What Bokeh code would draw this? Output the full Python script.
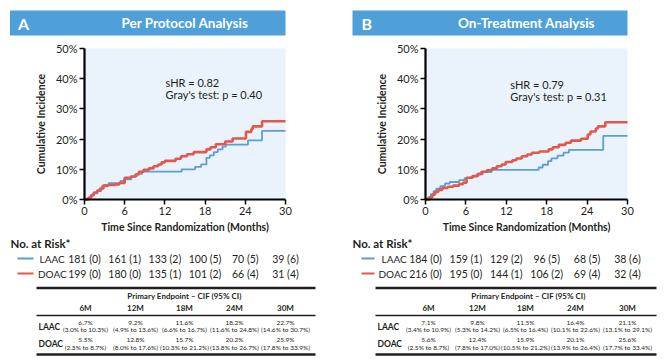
from bokeh.plotting import figure
from bokeh.models import Range1d, FixedTicker, PrintfTickFormatter, LinearAxis
from bokeh.core.properties import value
from bokeh.embed import file_html
from bokeh.resources import INLINE

FONT = "Lato"
TXT = "#231f20"
RED = "#e4574b"
BLUE = "#5b9fd3"
HEAD = "#4f9fd8"
PLOT_BG = "#eaf2fb"

# ---------------- data ----------------
LETTERS = ["A", "B"]
TITLES = ["Per Protocol Analysis", "On-Treatment Analysis"]
SHR = ["sHR = 0.82", "sHR = 0.79"]
GRAY = ["Gray's test: p = 0.40", "Gray's test: p = 0.31"]
X_TICKS = [0, 6, 12, 18, 24, 30]
Y_TICKS = [0, 10, 20, 30, 40, 50]
X_LABEL = "Time Since Randomization (Months)"
Y_LABEL = "Cumulative Incidence"

A_LAAC_T = [0, 0.5, 0.9, 1.3, 1.9, 2.5, 2.9, 3.6, 5.4, 5.9, 7.0, 7.8, 8.6, 14.5, 16.5, 17.4,
            18.2, 18.7, 19.3, 19.9, 20.6, 21.1, 24.4, 26.5, 30]
A_LAAC_Y = [0, 0.6, 1.2, 2.0, 2.8, 3.6, 4.8, 5.4, 6.2, 6.7, 7.6, 8.5, 9.2, 10.0, 10.8, 11.6,
            13.8, 14.6, 15.7, 16.6, 17.5, 18.2, 19.6, 22.7, 22.7]
A_DOAC_T = [0, 0.6, 1.0, 1.4, 1.9, 2.3, 2.7, 3.5, 4.6, 5.2, 6.0, 6.9, 7.6, 8.1, 8.8, 9.6, 10.3,
            11.0, 11.5, 12.0, 13.6, 14.4, 15.3, 16.3, 18.2, 18.8, 19.6, 21.0, 22.1, 24.1, 24.9,
            25.1, 26.5, 30]
A_DOAC_Y = [0, 0.6, 1.5, 2.3, 3.0, 3.6, 4.5, 4.8, 5.0, 5.5, 7.2, 7.6, 8.3, 9.2, 9.8, 10.3, 11.0,
            11.6, 12.3, 12.8, 13.5, 14.3, 15.0, 15.7, 16.6, 17.3, 18.3, 19.2, 20.2, 22.4, 23.3,
            24.2, 25.9, 25.9]

B_LAAC_T = [0, 0.4, 0.8, 1.2, 1.6, 2.2, 2.9, 3.6, 5.0, 5.8, 6.8, 7.6, 8.5, 9.8, 16.8, 17.4,
            18.2, 18.7, 19.6, 20.5, 21.3, 26.4, 30]
B_LAAC_Y = [0, 0.8, 1.8, 2.8, 3.6, 4.4, 5.3, 5.8, 6.4, 7.1, 7.6, 8.3, 9.1, 9.8, 10.6, 11.5,
            12.7, 13.6, 14.5, 15.5, 16.4, 21.1, 21.1]
B_DOAC_T = [0, 0.6, 1.0, 1.4, 1.9, 2.5, 3.3, 4.1, 5.0, 5.6, 6.1, 7.0, 7.8, 8.3, 9.1, 9.9, 10.6,
            11.3, 11.9, 12.9, 13.5, 14.3, 15.1, 15.8, 16.9, 18.3, 18.9, 19.8, 20.8, 21.6, 23.1,
            24.1, 24.5, 25.3, 25.6, 26.7, 30]
B_DOAC_Y = [0, 0.7, 1.6, 2.5, 3.2, 3.8, 4.2, 4.6, 5.1, 5.6, 7.2, 7.8, 8.5, 9.2, 9.7, 10.3, 11.0,
            11.6, 12.4, 13.0, 13.6, 14.3, 14.9, 15.5, 15.9, 16.6, 17.3, 18.1, 18.8, 19.5, 20.1,
            21.5, 22.5, 23.5, 24.2, 25.6, 25.6]

RISK_TITLE = "No. at Risk*"
RISK_GROUPS = ["LAAC", "DOAC"]
RISK_TIMES = [0, 6, 12, 18, 24, 30]
A_RISK_LAAC = ["181 (0)", "161 (1)", "133 (2)", "100 (5)", "70 (5)", "39 (6)"]
A_RISK_DOAC = ["199 (0)", "180 (0)", "135 (1)", "101 (2)", "66 (4)", "31 (4)"]
B_RISK_LAAC = ["184 (0)", "159 (1)", "129 (2)", "96 (5)", "68 (5)", "38 (6)"]
B_RISK_DOAC = ["216 (0)", "195 (0)", "144 (1)", "106 (2)", "69 (4)", "32 (4)"]

CIF_TITLE = "Primary Endpoint \u2013 CIF (95% CI)"
CIF_COLS = ["6M", "12M", "18M", "24M", "30M"]
A_CIF_LAAC = ["6.7%", "9.2%", "11.6%", "18.2%", "22.7%"]
A_CIF_LAAC_CI = ["(3.0% to 10.3%)", "(4.9% to 13.6%)", "(6.6% to 16.7%)", "(11.6% to 24.8%)", "(14.6% to 30.7%)"]
A_CIF_DOAC = ["5.5%", "12.8%", "15.7%", "20.2%", "25.9%"]
A_CIF_DOAC_CI = ["(2.3% to 8.7%)", "(8.0% to 17.6%)", "(10.3% to 21.2%)", "(13.8% to 26.7%)", "(17.8% to 33.9%)"]
B_CIF_LAAC = ["7.1%", "9.8%", "11.5%", "16.4%", "21.1%"]
B_CIF_LAAC_CI = ["(3.4% to 10.9%)", "(5.3% to 14.2%)", "(6.5% to 16.4%)", "(10.1% to 22.6%)", "(13.1% to 29.1%)"]
B_CIF_DOAC = ["5.6%", "12.4%", "15.9%", "20.1%", "25.6%"]
B_CIF_DOAC_CI = ["(2.5% to 8.7%)", "(7.8% to 17.0%)", "(10.5% to 21.2%)", "(13.9% to 26.4%)", "(17.7% to 33.4%)"]

# ---------------- layout (page pixel coordinates) ----------------
W, H = 667, 362
FT, FB = 48, 199          # chart frame top / bottom (page px)
PANELS = [
    dict(name="A", fl=84, fr=285, hl=9.5, hr=285, letter_x=17.5, title_cx=184.5,
         tl=36, tr=315, cols=[85, 135, 184, 234, 285], rowlab=38, seg=(17, 33), leg=(39, 37.5),
         risk_x=10, cif_cx=184,
         laac=(A_LAAC_T, A_LAAC_Y), doac=(A_DOAC_T, A_DOAC_Y),
         rl=A_RISK_LAAC, rd=A_RISK_DOAC, cl=A_CIF_LAAC, cli=A_CIF_LAAC_CI,
         cd=A_CIF_DOAC, cdi=A_CIF_DOAC_CI, ann=(12.1, 38.8, 34.7)),
    dict(name="B", fl=425, fr=627, hl=352, hr=627, letter_x=361, title_cx=526,
         tl=375, tr=656, cols=[428, 477, 525, 575, 627], rowlab=377, seg=(361, 374), leg=(381, 378),
         risk_x=352, cif_cx=528,
         laac=(B_LAAC_T, B_LAAC_Y), doac=(B_DOAC_T, B_DOAC_Y),
         rl=B_RISK_LAAC, rd=B_RISK_DOAC, cl=B_CIF_LAAC, cli=B_CIF_LAAC_CI,
         cd=B_CIF_DOAC, cdi=B_CIF_DOAC_CI, ann=(12.6, 38.2, 34.0)),
]

p = figure(width=W, height=H, x_range=Range1d(0, W), y_range=Range1d(H, 0),
           output_backend="svg", toolbar_location=None, x_axis_location=None,
           y_axis_location=None, min_border=0, outline_line_color=None,
           background_fill_color="white", border_fill_color="white")
p.grid.visible = False


def txt(x, y, t, size, align="left", bold=False, color=TXT, **kw):
    p.text(x=x, y=y, text=t, text_font=value(FONT), text_font_size=size,
           text_font_style="bold" if bold else "normal", text_color=color,
           text_align=align, text_baseline="middle", **kw)


for i, P in enumerate(PANELS):
    mx, py = "m" + P["name"], "p" + P["name"]
    ppm = (P["fr"] - P["fl"]) / (X_TICKS[-1] - X_TICKS[0])
    ppp = (FB - FT) / (Y_TICKS[-1] - Y_TICKS[0])
    p.extra_x_ranges[mx] = Range1d(-P["fl"] / ppm, (W - P["fl"]) / ppm)
    p.extra_y_ranges[py] = Range1d((FB - H) / ppp, FB / ppp)

    # header bar
    p.quad(left=[P["hl"]], right=[P["hr"]], top=[10], bottom=[35], fill_color=HEAD, line_color=None)
    txt([P["letter_x"]], [22.5], [LETTERS[i]], "16px", bold=True, color="white")
    txt([P["title_cx"]], [22.5], [TITLES[i]], "13.5px", align="center", bold=True, color="white")

    # chart area
    p.quad(left=[X_TICKS[0]], right=[X_TICKS[-1]], bottom=[Y_TICKS[0]], top=[Y_TICKS[-1]],
           fill_color=PLOT_BG, line_color=None, x_range_name=mx, y_range_name=py)
    p.step(x=P["laac"][0], y=P["laac"][1], mode="after", line_color=BLUE, line_width=1.8,
           x_range_name=mx, y_range_name=py)
    p.step(x=P["doac"][0], y=P["doac"][1], mode="after", line_color=RED, line_width=2.6,
           x_range_name=mx, y_range_name=py)
    ax_, ay1, ay2 = P["ann"]
    txt([ax_, ax_], [ay1, ay2], [SHR[i], GRAY[i]], "11px", x_range_name=mx, y_range_name=py)

    xa = LinearAxis(x_range_name=mx, y_range_name=py, fixed_location=Y_TICKS[0],
                    bounds=(X_TICKS[0], X_TICKS[-1]), ticker=FixedTicker(ticks=X_TICKS),
                    axis_label=X_LABEL)
    ya = LinearAxis(x_range_name=mx, y_range_name=py, fixed_location=X_TICKS[0],
                    bounds=(Y_TICKS[0], Y_TICKS[-1]), ticker=FixedTicker(ticks=Y_TICKS),
                    formatter=PrintfTickFormatter(format="%d%%"), axis_label=Y_LABEL)
    for ax in (xa, ya):
        ax.axis_line_width = 2.2
        ax.axis_line_color = "black"
        ax.major_tick_line_width = 1.5
        ax.major_tick_line_color = "black"
        ax.major_tick_out = 5
        ax.major_tick_in = 0
        ax.minor_tick_line_color = None
        ax.major_label_text_font = FONT
        ax.major_label_text_font_size = "11px"
        ax.major_label_text_color = TXT
        ax.axis_label_text_font = FONT
        ax.axis_label_text_font_size = "10.5px"
        ax.axis_label_text_font_style = "bold"
        ax.axis_label_text_color = TXT
        ax.major_label_standoff = 2
    xa.axis_label_standoff = 3
    ya.axis_label_standoff = 6
    p.add_layout(xa, "below")
    p.add_layout(ya, "left")

    # number at risk
    txt([P["risk_x"]], [243], [RISK_TITLE], "11.5px", bold=True)
    p.segment(x0=[P["seg"][0]] * 2, x1=[P["seg"][1]] * 2, y0=[258, 273], y1=[258, 273],
              line_color=[BLUE, RED], line_width=2)
    txt(list(P["leg"]), [258, 273], RISK_GROUPS, "10px")
    txt(RISK_TIMES, [258] * 6, P["rl"], "10.5px", align="center", x_range_name=mx)
    txt(RISK_TIMES, [273] * 6, P["rd"], "10.5px", align="center", x_range_name=mx)

    # CIF table
    p.segment(x0=[P["tl"]] * 3, x1=[P["tr"]] * 3, y0=[287.5, 315, 354], y1=[287.5, 315, 354],
              line_color=TXT, line_width=[2.5, 1.3, 2.5])
    txt([P["cif_cx"]], [295.5], [CIF_TITLE], "8px", align="center", bold=True)
    txt(P["cols"], [307.5] * 5, CIF_COLS, "8px", align="center", bold=True)
    txt([P["rowlab"], P["rowlab"]], [326.5, 343.5], RISK_GROUPS, "8.5px", bold=True)
    txt(P["cols"], [322] * 5, P["cl"], "6.5px", align="center")
    txt(P["cols"], [329] * 5, P["cli"], "6.5px", align="center")
    txt(P["cols"], [339] * 5, P["cd"], "6.5px", align="center")
    txt(P["cols"], [346.5] * 5, P["cdi"], "6.5px", align="center")

open("out.html", "w").write(file_html(p, INLINE))
